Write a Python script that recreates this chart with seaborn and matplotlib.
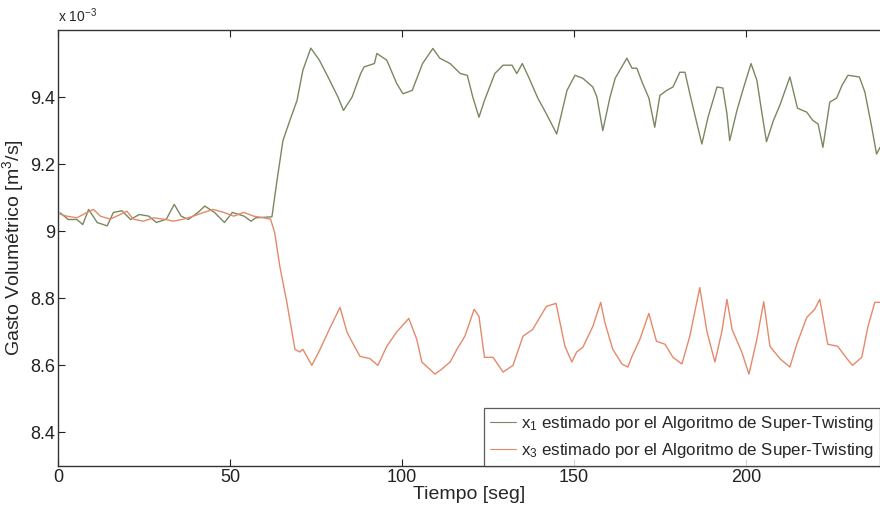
import numpy as np
import pandas as pd
import matplotlib
matplotlib.use("Agg")
import matplotlib.pyplot as plt
import seaborn as sns

# ---- data (values in units of 1e-3 m^3/s) ----
t_x1 = [0.6, 3, 5.5, 7.2, 8.9, 11.4, 14.3, 16.1, 18.6, 21.1, 23.6, 26.4, 28.6, 31.5, 33.8, 35.8, 37.9, 40.7, 42.7, 45.5, 48.4, 50.7, 54.1, 56.1, 57.5,
        62.2, 63.7, 65.4, 67.4, 69.5, 71.2, 73.5, 76, 79, 81.4, 83, 85.5, 88, 89, 92, 92.7, 95.6, 98.5, 100.3, 103, 106, 109,
        111, 114, 117, 119, 120.6, 122.4, 124, 127, 129.4, 132, 133.4, 135, 137, 139.5, 142, 145, 148, 150.3, 152.6, 155.5,
        156.7, 158.4, 160.5, 162, 165.4, 166.9, 168.3, 170, 171.8, 173.5, 175, 177, 178.8, 180.8, 182.3, 183.7, 185.8, 187.2,
        189, 191.6, 193.3, 194.5, 195.3, 197.4, 199.1, 201.5, 203.2, 204.7, 206, 208, 209.9, 212.8, 215, 217.7, 219.5, 221,
        222.4, 224.4, 226.4, 228, 229.7, 233, 234.6, 236.6, 238, 239]
v_x1 = [9.055, 9.035, 9.035, 9.02, 9.065, 9.026, 9.016, 9.056, 9.061, 9.035, 9.050, 9.045, 9.026, 9.036, 9.080, 9.045, 9.035, 9.056, 9.075, 9.056, 9.026, 9.056, 9.045, 9.030, 9.040,
        9.043, 9.153, 9.27, 9.33, 9.39, 9.48, 9.546, 9.51, 9.45, 9.40, 9.36, 9.40, 9.47, 9.49, 9.50, 9.53, 9.51, 9.44, 9.41, 9.42, 9.50, 9.545,
        9.516, 9.50, 9.47, 9.465, 9.40, 9.34, 9.39, 9.47, 9.495, 9.495, 9.47, 9.50, 9.456, 9.397, 9.35, 9.29, 9.42, 9.465, 9.456, 9.43,
        9.40, 9.30, 9.40, 9.456, 9.516, 9.486, 9.486, 9.44, 9.397, 9.31, 9.405, 9.42, 9.43, 9.474, 9.474, 9.41, 9.32, 9.26,
        9.34, 9.43, 9.427, 9.35, 9.27, 9.36, 9.42, 9.50, 9.45, 9.35, 9.267, 9.33, 9.376, 9.46, 9.367, 9.355, 9.33, 9.32,
        9.25, 9.385, 9.397, 9.436, 9.465, 9.46, 9.415, 9.31, 9.23, 9.25]

t_x3 = [0.6, 2.5, 5.5, 8.4, 10.3, 12.3, 15.2, 18.1, 20, 21.9, 24.8, 27.8, 30.7, 33.6, 36.5, 39.4, 42.3, 45.2, 48.2, 51.1, 54, 56.9, 59.8, 61.8,
        63, 64.5, 66.5, 68.9, 70.3, 71.2, 73.8, 76.2, 79, 82, 84, 85.5, 87.8, 90.7, 93, 95.6, 98.5, 102, 104.3, 105.8, 109.6,
        111.6, 114, 116, 118.3, 121, 122.4, 124, 126.5, 129.4, 132.3, 135.2, 138, 142, 144.8, 147.4, 149.4, 150.8, 152.6,
        155.5, 157.8, 159, 161.3, 164, 165.7, 166.9, 169.2, 171.8, 174, 176.5, 178.8, 181.4, 183.7, 186.6, 188.7, 191, 193,
        194.5, 196, 198.8, 200.9, 203.2, 205.2, 207, 209.9, 212.8, 214.8, 217.7, 220, 221.5, 223.8, 226.7, 229.4, 231,
        233.7, 235.5, 237.5, 239]
v_x3 = [9.051, 9.045, 9.040, 9.056, 9.065, 9.045, 9.036, 9.050, 9.060, 9.036, 9.030, 9.040, 9.036, 9.030, 9.036, 9.045, 9.056, 9.065, 9.056, 9.045, 9.056, 9.045, 9.040, 9.036,
        8.996, 8.895, 8.79, 8.648, 8.64, 8.648, 8.60, 8.648, 8.71, 8.773, 8.70, 8.67, 8.627, 8.62, 8.60, 8.657, 8.70, 8.74, 8.678, 8.61, 8.574,
        8.589, 8.61, 8.648, 8.687, 8.767, 8.746, 8.624, 8.624, 8.58, 8.60, 8.687, 8.707, 8.776, 8.785, 8.657, 8.61, 8.64, 8.654,
        8.716, 8.788, 8.728, 8.648, 8.604, 8.595, 8.627, 8.678, 8.755, 8.672, 8.663, 8.624, 8.604, 8.687, 8.832, 8.70, 8.61, 8.70,
        8.797, 8.707, 8.64, 8.574, 8.678, 8.79, 8.657, 8.62, 8.595, 8.663, 8.743, 8.767, 8.797, 8.663, 8.657, 8.62, 8.60,
        8.624, 8.716, 8.788, 8.788]

label_x1 = r"x$_1$ estimado por el Algoritmo de Super-Twisting"
label_x3 = r"x$_3$ estimado por el Algoritmo de Super-Twisting"
x_ticks = [0, 50, 100, 150, 200]
y_ticks = [8.4, 8.6, 8.8, 9.0, 9.2, 9.4]
y_ticklabels = ["8.4", "8.6", "8.8", "9", "9.2", "9.4"]

sns.set_style("white")
plt.rcParams['font.family'] = ['Liberation Sans', 'DejaVu Sans']
plt.rcParams['mathtext.fontset'] = 'custom'
plt.rcParams['mathtext.rm'] = 'Liberation Sans'
plt.rcParams['mathtext.it'] = 'Liberation Sans'

df1 = pd.DataFrame({"t": t_x1, "v": v_x1})
df3 = pd.DataFrame({"t": t_x3, "v": v_x3})

fig = plt.figure(figsize=(8.8, 5.09), dpi=100)
ax = fig.add_axes([58/880, 1-466/509, 1-58/880, (466-30)/509])

sns.lineplot(data=df1, x="t", y="v", ax=ax, color="#7b8760", lw=1.0, label=label_x1)
sns.lineplot(data=df3, x="t", y="v", ax=ax, color="#e48a6a", lw=1.0, label=label_x3)

ax.set_xlim(0, 239)
ax.set_ylim(8.3, 9.6)
ax.set_xticks(x_ticks)
ax.set_xticklabels([str(v) for v in x_ticks])
ax.set_yticks(y_ticks)
ax.set_yticklabels(y_ticklabels)
ax.tick_params(direction="in", top=True, bottom=True, left=True, right=False,
               labelsize=13, length=5, colors="#222222", pad=2)
for s in ["left", "bottom", "top"]:
    ax.spines[s].set_color("#333333")
    ax.spines[s].set_linewidth(1.0)
ax.spines["right"].set_visible(False)

ax.set_xlabel("Tiempo [seg]", fontsize=14, labelpad=0)
ax.set_ylabel(r"Gasto Volumétrico [m$^3$/s]", fontsize=14, labelpad=3)
ax.text(0.0, 1.012, r"x 10$^{-3}$", transform=ax.transAxes, fontsize=10, ha="left", va="bottom")

leg = ax.legend(loc="lower right", fontsize=12.2, frameon=True, fancybox=False,
                handlelength=1.5, handletextpad=0.3, borderpad=0.35, labelspacing=0.5,
                borderaxespad=0.0, bbox_to_anchor=(1.0, 0.0))
leg.get_frame().set_edgecolor("#333333")
leg.get_frame().set_linewidth(0.9)
for line in leg.get_lines():
    line.set_linewidth(0.8)

fig.savefig("out.png", dpi=100, facecolor="white")
